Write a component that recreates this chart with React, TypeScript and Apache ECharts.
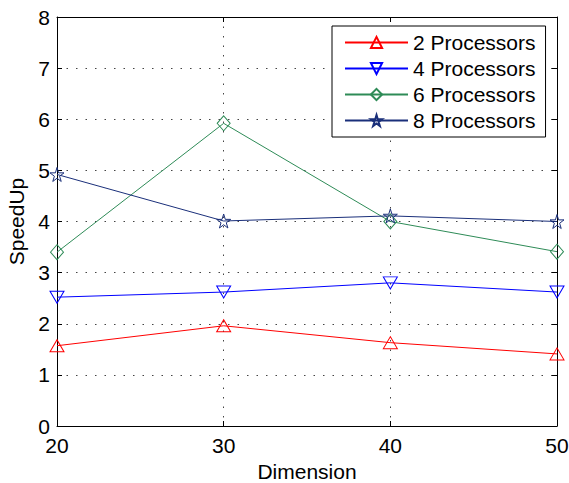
import React, { useEffect, useRef } from "react";
import * as echarts from "echarts";

const dimensions = [20, 30, 40, 50];
const seriesNames = ["2 Processors", "4 Processors", "6 Processors", "8 Processors"];
const speedup2 = [1.57, 1.96, 1.63, 1.41];
const speedup4 = [2.52, 2.62, 2.8, 2.62];
const speedup6 = [3.4, 5.92, 4.0, 3.41];
const speedup8 = [4.92, 4.01, 4.11, 4.0];
const colors = ["#ff0000", "#0000ff", "#2e8b57", "#1a2f7a"];

const FONT = "Liberation Sans, Arial, Helvetica, sans-serif";

const downTri = "path://M0,0 L10,0 L5,8.6 Z";
const star = "path://M50,0 L61,35 L98,35 L68,57 L79,91 L50,70 L21,91 L32,57 L2,35 L39,35 Z";

export default function App() {
  const ref = useRef<HTMLDivElement>(null);
  useEffect(() => {
    if (!ref.current) return;
    const chart = echarts.init(ref.current, undefined, { renderer: "svg" });
    const values = [speedup2, speedup4, speedup6, speedup8];
    const symbols: any[] = ["triangle", downTri, "diamond", star];
    const sizes: any[] = [[14, 12], [14, 12], [13, 15], [14, 14]];
    const gridLine = { show: true, lineStyle: { color: "#444", type: [1.5, 8] as any, width: 1 } };
    const option: any = {
      animation: false,
      backgroundColor: "#fff",
      grid: { left: 57, right: 12, top: 17, bottom: 57, outerBoundsMode: "none", containLabel: false },
      legend: {
        orient: "vertical",
        left: 332,
        top: 26,
        padding: [6, 10, 6, 12],
        itemWidth: 63,
        itemHeight: 14,
        itemGap: 5,
        backgroundColor: "#fff",
        borderColor: "#000",
        borderWidth: 1,
        borderRadius: 0,
        textStyle: { fontFamily: FONT, fontSize: 21, color: "#000", lineHeight: 21, padding: [0, 0, 0, 0] },
        data: seriesNames,
      },
      xAxis: [
        {
          type: "value",
          min: 20,
          max: 50,
          interval: 10,
          name: "Dimension",
          nameLocation: "middle",
          nameGap: 35,
          nameTextStyle: { fontFamily: FONT, fontSize: 21, color: "#000" },
          axisLine: { show: true, onZero: false, lineStyle: { color: "#000", width: 1 } },
          axisTick: { show: true, inside: true, length: 5, lineStyle: { color: "#000" } },
          axisLabel: { fontFamily: FONT, fontSize: 21, color: "#000", margin: 9 },
          splitLine: gridLine,
        },
        {
          type: "value",
          position: "top",
          min: 20,
          max: 50,
          interval: 10,
          axisLine: { show: true, onZero: false, lineStyle: { color: "#000", width: 1 } },
          axisTick: { show: true, inside: true, length: 5, lineStyle: { color: "#000" } },
          axisLabel: { show: false },
          splitLine: { show: false },
        },
      ],
      yAxis: [
        {
          type: "value",
          min: 0,
          max: 8,
          interval: 1,
          name: "SpeedUp",
          nameLocation: "middle",
          nameGap: 29,
          nameTextStyle: { fontFamily: FONT, fontSize: 21, color: "#000" },
          axisLine: { show: true, onZero: false, lineStyle: { color: "#000", width: 1 } },
          axisTick: { show: true, inside: true, length: 5, lineStyle: { color: "#000" } },
          axisLabel: { fontFamily: FONT, fontSize: 21, color: "#000", margin: 7 },
          splitLine: gridLine,
        },
        {
          type: "value",
          position: "right",
          min: 0,
          max: 8,
          interval: 1,
          axisLine: { show: true, onZero: false, lineStyle: { color: "#000", width: 1 } },
          axisTick: { show: true, inside: true, length: 5, lineStyle: { color: "#000" } },
          axisLabel: { show: false },
          splitLine: { show: false },
        },
      ],
      series: seriesNames.map((name, i) => ({
        name,
        type: "line",
        xAxisIndex: 0,
        yAxisIndex: 0,
        data: dimensions.map((d, j) => [d, values[i][j]]),
        symbol: symbols[i],
        symbolSize: sizes[i],
        showAllSymbol: true,
        lineStyle: { color: colors[i], width: 1 },
        itemStyle: { color: "rgba(255,255,255,0)", borderColor: colors[i], borderWidth: 1 },
        emphasis: { disabled: true },
        z: 3 + i,
      })),
    };
    chart.setOption(option);
    return () => chart.dispose();
  }, []);
  return (
    <div
      ref={ref}
      style={{ position: "fixed", left: 0, top: 0, width: 569, height: 483, background: "#fff" }}
    />
  );
}
